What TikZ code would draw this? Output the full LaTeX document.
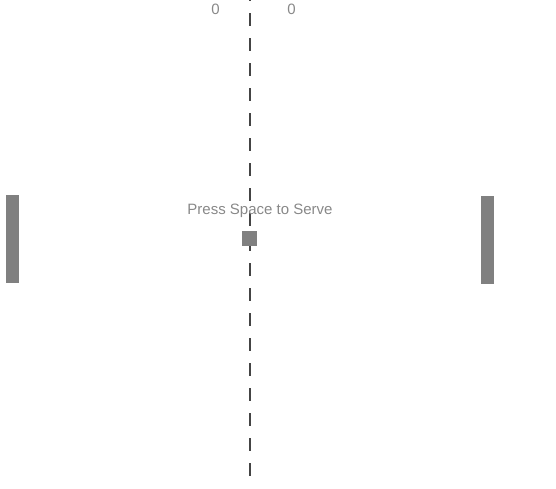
\documentclass[tikz,border=0pt]{standalone}
\usepackage{fontspec}
\setmainfont{Liberation Sans}
\definecolor{paddlegray}{HTML}{808080}
\definecolor{linegray}{HTML}{444444}
\definecolor{textgray}{HTML}{888888}
\begin{document}
\begin{tikzpicture}[x=1pt,y=-1pt,
  paddle/.style={fill=paddlegray,draw=none,inner sep=0pt,minimum width=13pt,minimum height=88pt},
  ballbox/.style={fill=paddlegray,draw=none,inner sep=0pt,minimum size=15pt},
  netline/.style={draw=linegray,line width=2pt,dash pattern=on 13pt off 12pt,dash phase=11.7pt},
  label/.style={text=textgray,font=\fontsize{15}{18}\selectfont,inner sep=0pt,anchor=base}]
\useasboundingbox (0,0) rectangle (556,489);
\coordinate (nettop) at (250,0);
\coordinate (netbot) at (250,480);
\draw[netline] (nettop) -- (netbot);
\node[paddle] (lpad) at (12.5,239) {};
\node[paddle] (rpad) at (487.5,240) {};
\node[ballbox] (ball) at (249.8,238.8) {};
\node[label] (msg) at (260,214) {Press Space to Serve};
\node[label] (lscore) at (215.5,14.5) {0};
\node[label] (rscore) at (291.5,14.5) {0};
\end{tikzpicture}
\end{document}
